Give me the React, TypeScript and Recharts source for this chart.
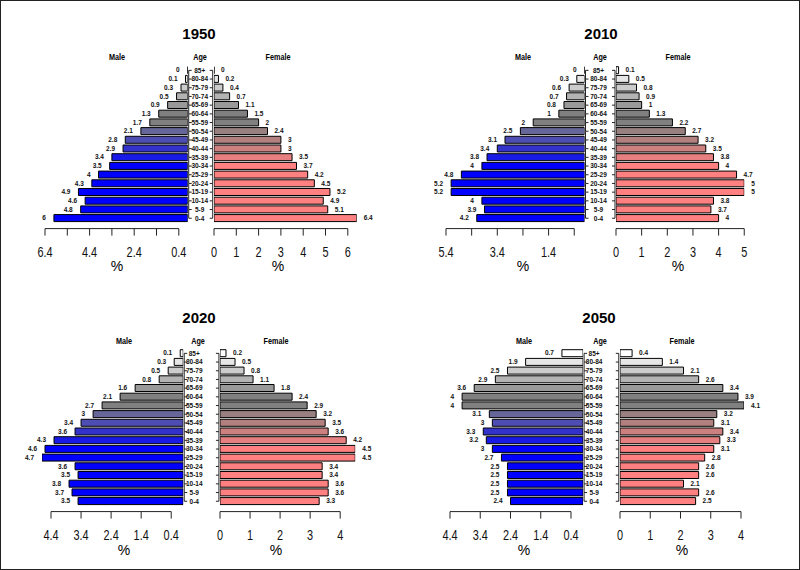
import React from 'react';
import { BarChart, Bar, XAxis, YAxis, Cell, LabelList } from 'recharts';

// age groups, youngest first
const ageGroups = ['0-4', '5-9', '10-14', '15-19', '20-24', '25-29', '30-34', '35-39', '40-44', '45-49', '50-54', '55-59', '60-64', '65-69', '70-74', '75-79', '80-84', '85+'];

// percentages of population, same order as ageGroups
const male1950 = [6, 4.8, 4.6, 4.9, 4.3, 4, 3.5, 3.4, 2.9, 2.8, 2.1, 1.7, 1.3, 0.9, 0.5, 0.3, 0.1, 0];
const female1950 = [6.4, 5.1, 4.9, 5.2, 4.5, 4.2, 3.7, 3.5, 3, 3, 2.4, 2, 1.5, 1.1, 0.7, 0.4, 0.2, 0];
const male2010 = [4.2, 3.9, 4, 5.2, 5.2, 4.8, 4, 3.8, 3.4, 3.1, 2.5, 2, 1, 0.8, 0.7, 0.6, 0.3, 0];
const female2010 = [4, 3.7, 3.8, 5, 5, 4.7, 4, 3.8, 3.5, 3.2, 2.7, 2.2, 1.3, 1, 0.9, 0.8, 0.5, 0.1];
const male2020 = [3.5, 3.7, 3.8, 3.5, 3.6, 4.7, 4.6, 4.3, 3.6, 3.4, 3, 2.7, 2.1, 1.6, 0.8, 0.5, 0.3, 0.1];
const female2020 = [3.3, 3.6, 3.6, 3.4, 3.4, 4.5, 4.5, 4.2, 3.6, 3.5, 3.2, 2.9, 2.4, 1.8, 1.1, 0.8, 0.5, 0.2];
const male2050 = [2.4, 2.5, 2.5, 2.5, 2.5, 2.7, 3, 3.2, 3.3, 3, 3.1, 4, 4, 3.6, 2.9, 2.5, 1.9, 0.7];
const female2050 = [2.5, 2.6, 2.1, 2.6, 2.6, 2.8, 3.1, 3.3, 3.4, 3.1, 3.2, 4.1, 3.9, 3.4, 2.6, 2.1, 1.4, 0.4];

// axis ticks and the tick labels that are printed
const maleTicks1950 = [0.4, 1.4, 2.4, 3.4, 4.4, 5.4, 6.4];
const maleLabels1950 = [6.4, 4.4, 2.4, 0.4];
const femaleTicks1950 = [0, 1, 2, 3, 4, 5, 6];
const maleTicks2010 = [0.4, 1.4, 2.4, 3.4, 4.4, 5.4];
const maleLabels2010 = [5.4, 3.4, 1.4];
const femaleTicks2010 = [0, 1, 2, 3, 4, 5];
const maleTicks2020 = [0.4, 1.4, 2.4, 3.4, 4.4];
const femaleTicks2020 = [0, 1, 2, 3, 4];

const FONT = '"Liberation Sans", Arial, Helvetica, sans-serif';
const ROW_H = 8.7;
const PLOT_H = ROW_H * 18;
const AXIS_GAP = 6;
const XAXIS_H = 40;
const SIDE_PAD = 26;
const INNER_PAD = 10;

// plotrix-style colour gradients (blue/pink -> grey -> white)
const maleStops = [[0, 0, 1], [0, 0, 1], [0.5, 0.5, 0.5], [1, 1, 1]];
const femaleStops = [[1, 0.5, 0.5], [1, 0.5, 0.5], [0.5, 0.5, 0.5], [1, 1, 1]];

function gradientColor(stops: number[][], i: number) {
  const seg = Math.min(2, Math.floor(i / 6));
  const t = (i - seg * 6) / 5;
  const c = stops[seg].map((v, k) => Math.round(255 * (v + (stops[seg + 1][k] - v) * t)));
  return `rgb(${c.join(',')})`;
}

function Txt({ x, y, size, bold, sx = 1, children }: any) {
  return (
    <div
      style={{
        position: 'absolute',
        left: x,
        top: y,
        transform: `translate(-50%, -50%) scaleX(${sx})`,
        fontFamily: FONT,
        fontSize: size,
        fontWeight: bold ? 700 : 400,
        lineHeight: 1,
        whiteSpace: 'nowrap',
        color: '#000',
      }}
    >
      {children}
    </div>
  );
}

function renderAxisTick(props: any, ticks: number[], labels: number[], dir: number, unit: number) {
  const { x, y, payload } = props;
  const v = payload.value;
  const ay = y + AXIS_GAP;
  const span = (ticks[ticks.length - 1] - ticks[0]) * unit;
  return (
    <g>
      {v === ticks[0] && <line x1={x} y1={ay} x2={x + dir * span} y2={ay} stroke="#222" strokeWidth={1} />}
      <line x1={x} y1={ay} x2={x} y2={ay + 7} stroke="#222" strokeWidth={1} />
      {labels.includes(v) && (
        <text
          transform={`translate(${x} ${ay + 23}) scale(0.78 1)`}
          textAnchor="middle"
          dy="0.35em"
          fontFamily={FONT}
          fontSize={14}
          fill="#111"
        >
          {String(v)}
        </text>
      )}
    </g>
  );
}

function renderAgeTick(props: any, gap: number, offset: number) {
  const { x, y, payload, index } = props;
  const lx = x + 1;
  const rx = x + gap - 1;
  return (
    <g>
      {index < 17 && <line x1={lx} y1={y} x2={lx} y2={y + ROW_H} stroke="#222" />}
      {index < 17 && <line x1={rx} y1={y} x2={rx} y2={y + ROW_H} stroke="#222" />}
      <line x1={lx} y1={y} x2={lx + 3} y2={y} stroke="#222" />
      <line x1={rx - 3} y1={y} x2={rx} y2={y} stroke="#222" />
      <text x={x + offset} y={y} dy="0.35em" textAnchor="middle" fontFamily={FONT} fontSize={6.5} fontWeight={700} fill="#111">
        {payload.value}
      </text>
    </g>
  );
}

function renderValue(props: any, side: number) {
  const vb = props.viewBox || props;
  const x = Number(props.x ?? vb.x);
  const y = Number(props.y ?? vb.y);
  const w = Number(props.width ?? vb.width);
  const h = Number(props.height ?? vb.height);
  const edge = side < 0 ? Math.min(x, x + w) - 8 : Math.max(x, x + w) + 7;
  return (
    <text
      x={edge}
      y={y + h / 2}
      dy="0.35em"
      textAnchor={side < 0 ? 'end' : 'start'}
      fontFamily={FONT}
      fontSize={6.5}
      fontWeight={700}
      fill="#111"
    >
      {String(props.value)}
    </text>
  );
}

function Pyramid(p: any) {
  const rows = ageGroups
    .map((age, i) => ({ age, idx: i, male: p.male[i], female: p.female[i] }))
    .reverse();
  const mW = p.maleMax * p.unit;
  const fW = p.femaleMax * p.unit;
  const gap = p.femaleZero - p.maleZero;
  const h = PLOT_H + XAXIS_H;
  const axisY = p.top + PLOT_H + AXIS_GAP;

  return (
    <>
      <Txt x={p.titleX} y={p.top - 32.5} size={15} bold>{p.title}</Txt>
      <Txt x={p.maleX} y={p.top - 8.5} size={8.5} bold sx={0.85}>Male</Txt>
      <Txt x={p.ageX} y={p.top - 8.5} size={8.5} bold sx={0.85}>Age</Txt>
      <Txt x={p.femaleX} y={p.top - 8.5} size={8.5} bold sx={0.85}>Female</Txt>
      <Txt x={p.maleX} y={axisY + 38} size={14}>%</Txt>
      <Txt x={p.femaleX} y={axisY + 38} size={14}>%</Txt>

      <div style={{ position: 'absolute', left: p.maleZero - mW - SIDE_PAD, top: p.top }}>
        <BarChart
          width={SIDE_PAD + mW + gap}
          height={h}
          data={rows}
          layout="vertical"
          margin={{ top: 0, right: 0, bottom: 0, left: SIDE_PAD }}
          barCategoryGap="8%"
        >
          <XAxis
            type="number"
            domain={[0, p.maleMax]}
            reversed
            allowDataOverflow
            ticks={p.maleTicks}
            interval={0}
            height={XAXIS_H}
            axisLine={false}
            tickLine={false}
            tickSize={0}
            tickMargin={0}
            tick={(t: any) => renderAxisTick(t, p.maleTicks, p.maleLabels, -1, p.unit)}
          />
          <YAxis
            type="category"
            dataKey="age"
            orientation="right"
            width={gap}
            interval={0}
            axisLine={false}
            tickLine={false}
            tickSize={0}
            tickMargin={0}
            tick={(t: any) => renderAgeTick(t, gap, p.ageOffset)}
          />
          <Bar dataKey="male" stroke="#000" strokeWidth={1} minPointSize={0.01} isAnimationActive={false}>
            {rows.map((r) => (
              <Cell key={r.age} fill={gradientColor(maleStops, r.idx)} />
            ))}
            <LabelList dataKey="male" content={(l: any) => renderValue(l, -1)} />
          </Bar>
        </BarChart>
      </div>

      <div style={{ position: 'absolute', left: p.femaleZero - INNER_PAD, top: p.top }}>
        <BarChart
          width={INNER_PAD + fW + SIDE_PAD}
          height={h}
          data={rows}
          layout="vertical"
          margin={{ top: 0, right: SIDE_PAD, bottom: 0, left: INNER_PAD }}
          barCategoryGap="8%"
        >
          <XAxis
            type="number"
            domain={[0, p.femaleMax]}
            allowDataOverflow
            ticks={p.femaleTicks}
            interval={0}
            height={XAXIS_H}
            axisLine={false}
            tickLine={false}
            tickSize={0}
            tickMargin={0}
            tick={(t: any) => renderAxisTick(t, p.femaleTicks, p.femaleTicks, 1, p.unit)}
          />
          <YAxis type="category" dataKey="age" hide width={0} />
          <Bar dataKey="female" stroke="#000" strokeWidth={1} minPointSize={0.01} isAnimationActive={false}>
            {rows.map((r) => (
              <Cell key={r.age} fill={gradientColor(femaleStops, r.idx)} />
            ))}
            <LabelList dataKey="female" content={(l: any) => renderValue(l, 1)} />
          </Bar>
        </BarChart>
      </div>
    </>
  );
}

export default function App() {
  return (
    <div
      style={{
        position: 'absolute',
        left: 0,
        top: 0,
        width: 800,
        height: 570,
        boxSizing: 'border-box',
        border: '1px solid #222',
        background: '#fff',
        overflow: 'hidden',
      }}
    >
      <Pyramid
        title="1950"
        male={male1950}
        female={female1950}
        maleTicks={maleTicks1950}
        maleLabels={maleLabels1950}
        femaleTicks={femaleTicks1950}
        maleMax={6.4}
        femaleMax={6.4}
        top={64.5}
        maleZero={187}
        femaleZero={213}
        unit={22.3}
        titleX={198}
        maleX={116}
        ageX={199}
        femaleX={277}
        ageOffset={12}
      />
      <Pyramid
        title="2010"
        male={male2010}
        female={female2010}
        maleTicks={maleTicks2010}
        maleLabels={maleLabels2010}
        femaleTicks={femaleTicks2010}
        maleMax={5.4}
        femaleMax={5}
        top={64.5}
        maleZero={583.5}
        femaleZero={615}
        unit={25.65}
        titleX={600}
        maleX={522}
        ageX={599}
        femaleX={677}
        ageOffset={14}
      />
      <Pyramid
        title="2020"
        male={male2020}
        female={female2020}
        maleTicks={maleTicks2020}
        maleLabels={maleTicks2020}
        femaleTicks={femaleTicks2020}
        maleMax={4.7}
        femaleMax={4.5}
        top={348.3}
        maleZero={182.3}
        femaleZero={219}
        unit={30.05}
        titleX={198}
        maleX={123}
        ageX={197}
        femaleX={275}
        ageOffset={11}
      />
      <Pyramid
        title="2050"
        male={male2050}
        female={female2050}
        maleTicks={maleTicks2020}
        maleLabels={maleTicks2020}
        femaleTicks={femaleTicks2020}
        maleMax={4.4}
        femaleMax={4.1}
        top={348.3}
        maleZero={582.3}
        femaleZero={619}
        unit={30.25}
        titleX={598}
        maleX={523}
        ageX={599}
        femaleX={681}
        ageOffset={11}
      />
    </div>
  );
}
